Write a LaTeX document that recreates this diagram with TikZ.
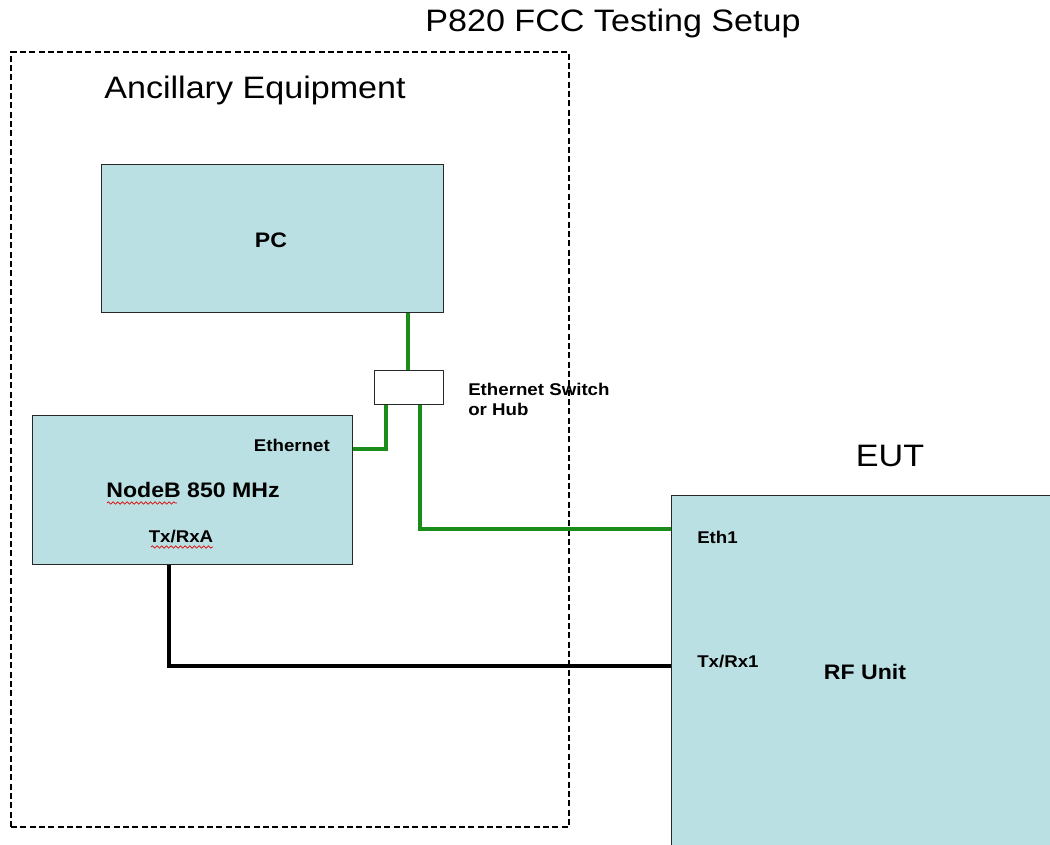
\documentclass[tikz,border=0pt]{standalone}
\usepackage{fontspec}
\setmainfont{Liberation Sans}[FakeStretch=1.1]
\usetikzlibrary{decorations.pathmorphing}
\definecolor{boxfill}{RGB}{187,224,227}
\definecolor{boxline}{RGB}{40,40,40}
\definecolor{cablegreen}{RGB}{26,140,26}
\begin{document}
\begin{tikzpicture}[x=0.75pt,y=-0.75pt,
  unitbox/.style={draw=boxline,line width=1.1pt,fill=boxfill,rectangle,inner sep=0pt,anchor=north west},
  bigtext/.style={font=\fontsize{23.25}{28}\selectfont,inner sep=0pt},
  boldlabel/.style={font=\bfseries\fontsize{15.75}{19}\selectfont,inner sep=0pt},
  smalllabel/.style={font=\bfseries\fontsize{12.75}{15}\selectfont,inner sep=0pt},
  greencable/.style={draw=cablegreen,line width=2.4pt},
  blackcable/.style={draw=black,line width=2.4pt},
  spellmark/.style={draw=red!85!black,line width=0.5pt,decorate,decoration={snake,amplitude=0.9,segment length=3.5}}]
\useasboundingbox (0,0) rectangle (1050,845);
\clip (0,0) rectangle (1050,845);
\fill[white] (0,0) rectangle (1050,845);

% titles
\node[bigtext] (title) at (613,23) {P820 FCC Testing Setup};
\node[bigtext] (anc) at (255,90) {Ancillary Equipment};
\node[bigtext] (eutlabel) at (890,456) {EUT};

% dashed group
\node[draw=black,line width=1.3pt,dash pattern=on 4.5pt off 2.5pt,rectangle,inner sep=0pt,anchor=north west,minimum width=418.5pt,minimum height=581.25pt] (group) at (10,51) {};

% boxes
\node[unitbox,minimum width=256.5pt,minimum height=111pt] (pc) at (101,164) {};
\node[boldlabel] (pclabel) at (271,240) {PC};

\node[draw=boxline,line width=1.1pt,fill=white,rectangle,inner sep=0pt,anchor=north west,minimum width=51.75pt,minimum height=25.5pt] (sw) at (374,370) {};
\node[smalllabel,anchor=west,align=left] (swlabel) at (468,399.5) {Ethernet Switch\\or Hub};

\node[unitbox,minimum width=240pt,minimum height=111.75pt] (nodeb) at (32,415) {};
\node[smalllabel,anchor=east] (ethlabel) at (330,445) {Ethernet};
\node[boldlabel] (nodeblabel) at (193,490) {NodeB 850 MHz};
\node[smalllabel] (txrxa) at (181,537) {Tx/RxA};

\node[unitbox,minimum width=315pt,minimum height=300pt] (eut) at (671,495) {};
\node[smalllabel,anchor=west] (eth1) at (697,537) {Eth1};
\node[smalllabel,anchor=west] (txrx1) at (697,662) {Tx/Rx1};
\node[boldlabel] (rfunit) at (865,672) {RF Unit};

% spell-check marks
\draw[spellmark] (107,503) -- (177,503);
\draw[spellmark] (151,547) -- (213,547);

% connectors
\draw[greencable] (408,0 |- pc.south) -- (408,0 |- sw.north);
\draw[greencable] (386,0 |- sw.south) |- (nodeb.east |- 0,449);
\draw[greencable] (420,0 |- sw.south) |- (eut.west |- 0,529);
\draw[blackcable] (169,0 |- nodeb.south) |- (eut.west |- 0,666);
\end{tikzpicture}
\end{document}
